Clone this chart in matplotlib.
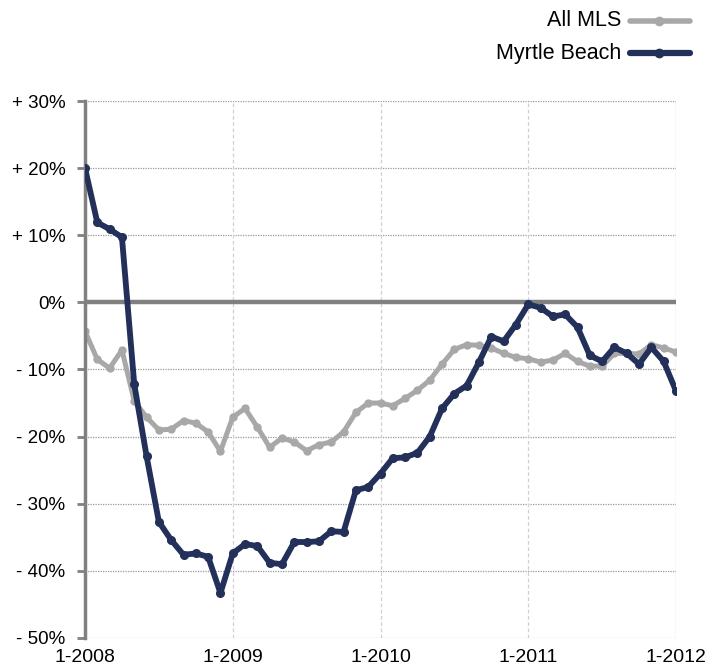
import matplotlib.pyplot as plt
from matplotlib.lines import Line2D

plt.rcParams['font.family'] = ['Liberation Sans', 'DejaVu Sans']

# monthly values, 1-2008 .. 1-2012 (percent change)
months = list(range(49))
myrtle = [20.0, 11.9, 10.9, 9.7, -12.2, -22.9, -32.7, -35.4, -37.6, -37.4, -37.9, -43.3,
          -37.4, -36.0, -36.3, -38.8, -39.0, -35.7, -35.7, -35.6, -34.1, -34.2, -28.0, -27.5,
          -25.5, -23.2, -23.1, -22.4, -20.0, -15.8, -13.6, -12.4, -8.9, -5.1, -5.8, -3.3,
          -0.3, -0.8, -2.1, -1.8, -3.7, -7.9, -8.8, -6.7, -7.6, -9.2, -6.7, -8.8, -13.2]
all_mls = [-4.3, -8.5, -9.8, -7.1, -14.7, -17.1, -19.0, -18.9, -17.6, -18.0, -19.3, -22.2,
           -17.1, -15.8, -18.6, -21.6, -20.2, -20.8, -22.1, -21.2, -20.8, -19.3, -16.4, -15.0,
           -15.0, -15.4, -14.3, -13.1, -11.6, -9.2, -7.0, -6.3, -6.4, -6.8, -7.6, -8.2,
           -8.4, -8.9, -8.6, -7.6, -8.8, -9.5, -9.5, -7.6, -7.6, -7.7, -6.3, -6.8, -7.4]
xticks = [0, 12, 24, 36, 48]
xlabels = ['1-2008', '1-2009', '1-2010', '1-2011', '1-2012']
yticks = [30, 20, 10, 0, -10, -20, -30, -40, -50]
ylabels = ['+ 30%', '+ 20%', '+ 10%', '0%', '- 10%', '- 20%', '- 30%', '- 40%', '- 50%']
series_names = ['All MLS', 'Myrtle Beach']

navy = '#22305a'
grey = '#a8a8a8'

W, H = 717, 670
fig = plt.figure(figsize=(W / 100, H / 100), dpi=100)
ax = fig.add_axes([85 / W, 1 - 638 / H, (676 - 85) / W, (638 - 101) / H])

ax.set_xlim(0, 48)
ax.set_ylim(-50, 30)

# grid
for y in yticks:
    if y != 0:
        ax.axhline(y, color='#999999', lw=0.9, ls=(0, (1, 1)), zorder=0)
for x in xticks[1:-1]:
    ax.axvline(x, color='#d0d0d0', lw=0.9, ls=(0, (3, 2)), zorder=0)
ax.axvline(48, color='#999999', lw=0.9, ls=(0, (1, 1)), zorder=0)
ax.axhline(0, color='#808080', lw=3.2, zorder=1)

ax.plot(months, all_mls, color=grey, lw=3.6, marker='o', ms=5, zorder=2)
ax.plot(months, myrtle, color=navy, lw=4.2, marker='o', ms=5.5, zorder=3)

for s in ['top', 'right', 'bottom']:
    ax.spines[s].set_visible(False)
ax.spines['left'].set_color('#808080')
ax.spines['left'].set_linewidth(2.5)

ax.set_yticks(yticks)
ax.set_yticklabels(ylabels, fontsize=13.5)
ax.set_xticks(xticks)
ax.set_xticklabels(xlabels, fontsize=14)
ax.tick_params(axis='y', length=6, width=2, color='#808080', pad=8)
ax.tick_params(axis='x', length=0, pad=8)

# legend drawn by hand: text on the left, line sample on the right
for name, col, lw, ypix in [(series_names[0], grey, 4, 21), (series_names[1], navy, 4.5, 53)]:
    yf = 1 - ypix / H
    fig.text(621 / W, yf, name, ha='right', va='center', fontsize=15.5)
    fig.add_artist(Line2D([630 / W, 690 / W], [yf, yf], color=col, lw=lw,
                          solid_capstyle='round', transform=fig.transFigure))
    fig.add_artist(Line2D([659 / W], [yf], color=col, marker='o', ms=6,
                          transform=fig.transFigure))

fig.savefig('out.png', dpi=100)
